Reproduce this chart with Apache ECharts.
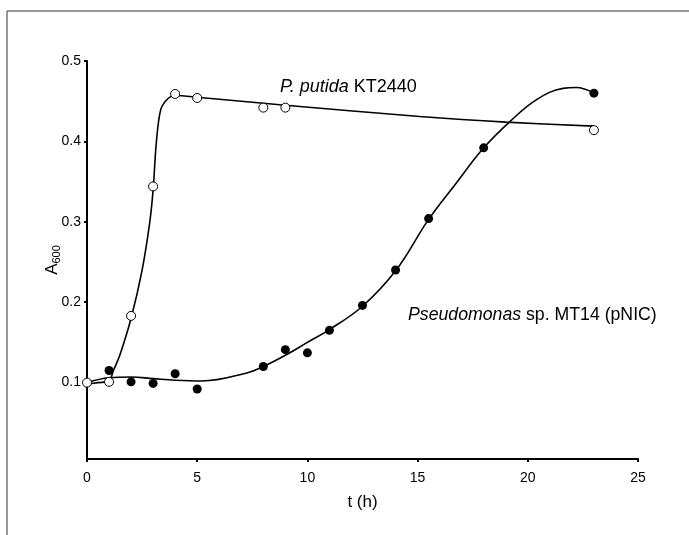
<!DOCTYPE html>
<html><head><meta charset="utf-8">
<script src="https://cdn.jsdelivr.net/npm/echarts@6/dist/echarts.min.js"></script>
<style>html,body{margin:0;padding:0;background:#fff}#c{width:689px;height:535px}</style>
</head><body><div id="c"></div>
<script>
// Measured points
const putidaT = [0, 1, 2, 3, 4, 5, 8, 9, 23];
const putidaA = [0.100, 0.101, 0.183, 0.344, 0.459, 0.454, 0.442, 0.442, 0.414];
const mt14T = [1, 2, 3, 4, 5, 8, 9, 10, 11, 12.5, 14, 15.5, 18, 23];
const mt14A = [0.115, 0.101, 0.099, 0.111, 0.092, 0.120, 0.141, 0.137, 0.165, 0.196, 0.240, 0.304, 0.392, 0.460];
// Fitted curves
const putidaCurveT = [0, 0.5, 1, 1.2, 1.5, 2, 2.5, 2.85, 3, 3.15, 3.35, 3.7, 4, 5, 9, 15.1, 19, 23];
const putidaCurveA = [0.098, 0.100, 0.102, 0.115, 0.135, 0.180, 0.240, 0.300, 0.340, 0.400, 0.440, 0.454, 0.457, 0.455, 0.445, 0.431, 0.424, 0.419];
const mt14CurveT = [0, 1, 2, 3, 4, 5.2, 7.25, 8, 9, 10, 11, 12.5, 14, 15.5, 16.75, 18, 19.2, 20.4, 21.6, 22.2, 23];
const mt14CurveA = [0.100, 0.106, 0.107, 0.105, 0.103, 0.102, 0.112, 0.120, 0.134, 0.150, 0.166, 0.195, 0.239, 0.303, 0.348, 0.392, 0.425, 0.452, 0.466, 0.467, 0.460];
const xTicks = [0, 5, 10, 15, 20, 25];
const yTicks = [0.1, 0.2, 0.3, 0.4, 0.5];

const zip = (a, b) => a.map((v, i) => [v, b[i]]);
const chart = echarts.init(document.getElementById('c'));
const font = 'Liberation Sans, Arial, sans-serif';
chart.setOption({
  animation: false,
  backgroundColor: '#fff',
  grid: { left: 87, right: 51, top: 61, bottom: 76 },
  xAxis: {
    type: 'value', min: 0, max: 25, interval: 5,
    name: 't (h)', nameLocation: 'middle', nameGap: 35, nameMoveOverlap: false,
    nameTextStyle: { fontFamily: font, fontSize: 17, color: '#000' },
    axisLine: { lineStyle: { color: '#000', width: 2 } },
    axisTick: { show: true, length: 3, lineStyle: { color: '#000', width: 2 } },
    axisLabel: { fontFamily: font, fontSize: 14, color: '#000', margin: 12 },
    splitLine: { show: false }
  },
  yAxis: {
    type: 'value', min: 0.005, max: 0.5,
    name: '{a|A}{s|600}', nameLocation: 'middle', nameGap: 25, nameRotate: 90, nameMoveOverlap: false,
    nameTextStyle: { fontFamily: font, fontSize: 17, color: '#000',
      rich: { a: { fontFamily: font, fontSize: 17, color: '#000', lineHeight: 20 },
              s: { fontFamily: font, fontSize: 11, color: '#000', verticalAlign: 'bottom', lineHeight: 14 } } },
    axisLine: { onZero: false, lineStyle: { color: '#000', width: 2 } },
    axisTick: { show: true, length: 3, customValues: yTicks, lineStyle: { color: '#000', width: 2 } },
    axisLabel: { fontFamily: font, fontSize: 14, color: '#000', margin: 6, customValues: yTicks,
      formatter: v => String(Math.round(v * 10) / 10) },
    splitLine: { show: false }
  },
  graphic: [
    { type: 'polyline', shape: { points: [[7, 535], [7, 11], [689, 11]] }, style: { stroke: '#333', lineWidth: 1, fill: null } },
    { type: 'text', left: 280, top: 78, style: { text: '{i|P. putida} KT2440', fontFamily: font, fontSize: 18, fill: '#000',
      rich: { i: { fontStyle: 'italic', fontFamily: font, fontSize: 18 } } } },
    { type: 'text', left: 408, top: 306, style: { text: '{i|Pseudomonas} sp. MT14 (pNIC)', fontFamily: font, fontSize: 17.7, fill: '#000',
      rich: { i: { fontStyle: 'italic', fontFamily: font, fontSize: 17.7 } } } }
  ],
  series: [
    { type: 'line', data: zip(putidaCurveT, putidaCurveA), smooth: 0.3, showSymbol: false, symbol: 'none',
      lineStyle: { color: '#000', width: 1.6 }, z: 2 },
    { type: 'line', data: zip(mt14CurveT, mt14CurveA), smooth: 0.4, showSymbol: false, symbol: 'none',
      lineStyle: { color: '#000', width: 1.6 }, z: 2 },
    { type: 'scatter', data: zip(mt14T, mt14A), symbol: 'circle', symbolSize: 9,
      itemStyle: { color: '#000', opacity: 1 }, z: 3 },
    { type: 'scatter', data: zip(putidaT, putidaA), symbol: 'circle', symbolSize: 9,
      itemStyle: { color: '#fff', borderColor: '#000', borderWidth: 1, opacity: 1 }, z: 4 }
  ]
});
</script></body></html>
